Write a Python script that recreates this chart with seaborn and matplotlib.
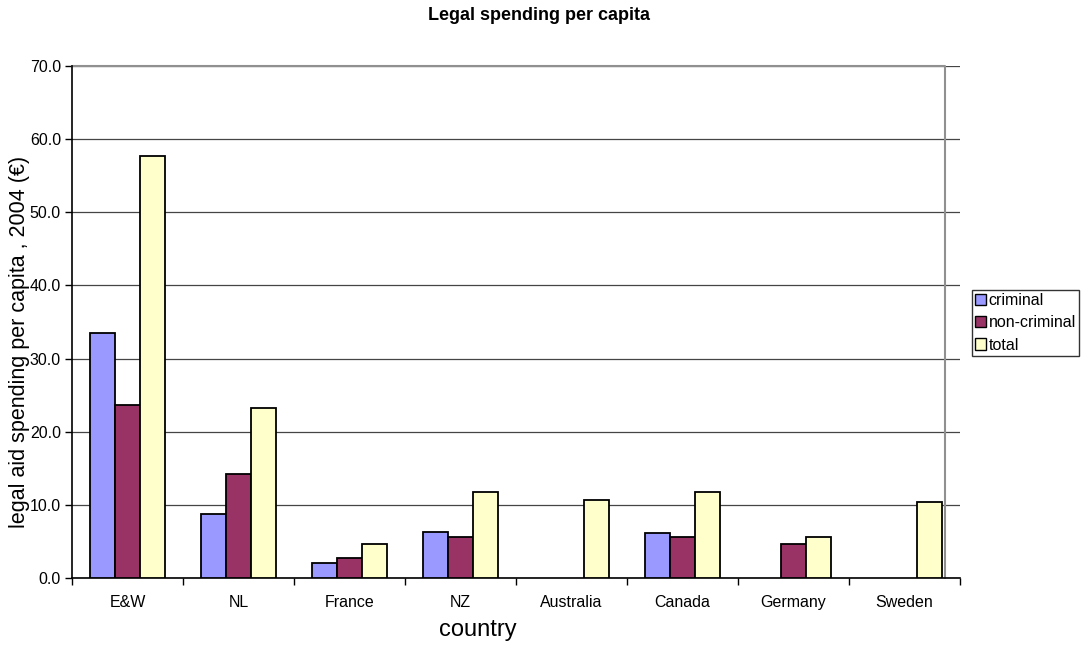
import numpy as np
import pandas as pd
import matplotlib
matplotlib.use("Agg")
import matplotlib.pyplot as plt
import seaborn as sns
from matplotlib.ticker import FixedLocator, FormatStrFormatter

countries = ["E&W", "NL", "France", "NZ", "Australia", "Canada", "Germany", "Sweden"]
criminal = [33.5, 8.8, 2.1, 6.3, np.nan, 6.1, np.nan, np.nan]
non_criminal = [23.7, 14.2, 2.7, 5.6, np.nan, 5.6, 4.6, np.nan]
total = [57.7, 23.3, 4.6, 11.8, 10.7, 11.8, 5.6, 10.4]
series = ["criminal", "non-criminal", "total"]
colors = ["#9999FF", "#993366", "#FFFFCC"]

df = pd.DataFrame({
    "country": countries * 3,
    "type": [s for s in series for _ in countries],
    "value": criminal + non_criminal + total,
}).dropna()

sns.set_theme(style="white")
plt.rcParams["font.family"] = ["Liberation Sans", "DejaVu Sans"]
for key in ["text.color", "axes.labelcolor", "xtick.color", "ytick.color"]:
    plt.rcParams[key] = "black"

W, H = 1081, 646
fig = plt.figure(figsize=(W / 100, H / 100), dpi=100)
ax = fig.add_axes([72 / W, 1 - 578 / H, 888 / W, 512 / H])

sns.barplot(data=df, x="country", y="value", hue="type", order=countries,
            hue_order=series, palette=colors, width=0.68, errorbar=None,
            edgecolor="black", linewidth=1.3, saturation=1, ax=ax, zorder=3)

ax.set_xlim(-0.5, len(countries) - 0.5)
ax.set_ylim(0, 70)
ax.set_yticks(np.arange(0, 71, 10))
ax.yaxis.set_major_formatter(FormatStrFormatter("%.1f"))
ax.grid(axis="y", color="#454545", linewidth=0.9, zorder=0)
ax.set_axisbelow(True)

# tick marks sit on category boundaries, labels at centres
ax.xaxis.set_minor_locator(FixedLocator(np.arange(-0.5, len(countries), 1)))
ax.tick_params(axis="x", which="major", length=0, labelsize=11.5, pad=21)
ax.tick_params(axis="x", which="minor", length=5, width=1, direction="out", color="black", bottom=True)
ax.tick_params(axis="y", which="major", length=5, width=1, direction="out", left=True,
               labelsize=11.5, pad=3)
for lbl in ax.get_xticklabels():
    lbl.set_va("baseline")

for side in ["left", "bottom"]:
    ax.spines[side].set_color("black")
    ax.spines[side].set_linewidth(1.2)
ax.spines["right"].set_visible(False)
ax.spines["top"].set_visible(False)

# grey plot-area frame: top edge and right edge
frame_x = (945 - 72) / 888
ax.plot([0, frame_x, frame_x], [1, 1, 0], color="#909090", linewidth=1.5,
        transform=ax.transAxes, zorder=2, clip_on=False)

ax.set_xlabel("country", fontsize=17)
ax.xaxis.set_label_coords((478 - 72) / 888, (578 - 630) / 512)
ax.xaxis.label.set_va("center")
ax.set_ylabel("legal aid spending per capita , 2004 (€)", fontsize=15.5)
ax.yaxis.set_label_coords((20 - 72) / 888, (578 - 342) / 512)
ax.yaxis.label.set_va("center")

fig.text(539 / W, 1 - 15 / H, "Legal spending per capita", ha="center", va="center",
         fontsize=13, fontweight="bold")

leg = ax.legend(loc="upper left", bbox_to_anchor=(972 / W, 1 - 290 / H),
                bbox_transform=fig.transFigure, fontsize=11.5, frameon=True, fancybox=False,
                edgecolor="black", handlelength=0.7, handleheight=0.7, handletextpad=0.15,
                borderpad=0.2, labelspacing=0.45, borderaxespad=0, title=None)
leg.get_frame().set_linewidth(1.0)
for h in leg.legend_handles:
    h.set_edgecolor("black")
    h.set_linewidth(1.0)

fig.savefig("out.png", dpi=100, facecolor="white")
